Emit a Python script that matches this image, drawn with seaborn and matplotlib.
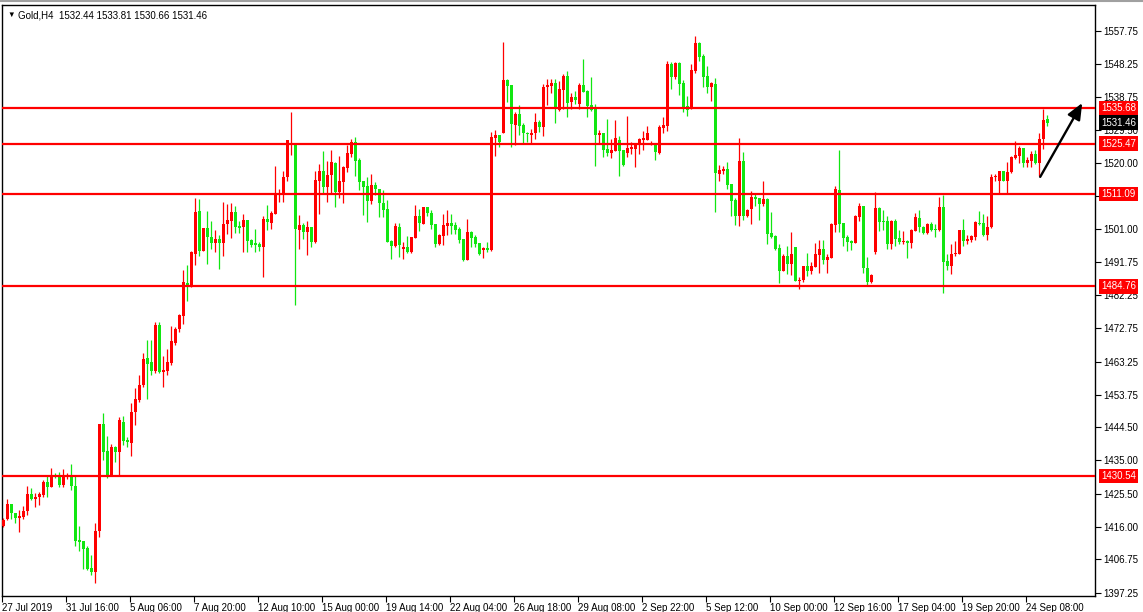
import numpy as np
import pandas as pd
import seaborn as sns
import matplotlib
matplotlib.use("Agg")
import matplotlib.pyplot as plt
import matplotlib.transforms as mtransforms

# Gold H4 candles (oldest first)
opens = [
    1416.3, 1418.2, 1422.5, 1419.9, 1418.4, 1418.9, 1420.4, 1425.4, 1424.1, 1424.4,
    1425.1, 1428.8, 1427.3, 1430.5, 1430.5, 1427.9, 1430.2, 1430.7, 1427.7, 1412.3,
    1412.1, 1410.0, 1404.3, 1403.1, 1414.9, 1445.4, 1437.7, 1430.5, 1438.9, 1437.5,
    1446.0, 1440.8, 1440.1, 1448.7, 1452.3, 1456.4, 1464.2, 1463.1, 1460.6, 1473.7,
    1460.3, 1460.6, 1462.9, 1468.6, 1472.4, 1476.3, 1485.6, 1484.6, 1494.0, 1506.2,
    1494.9, 1501.4, 1498.7, 1497.0, 1498.2, 1497.0, 1502.4, 1503.5, 1506.0, 1502.0,
    1501.6, 1503.7, 1498.0, 1497.2, 1496.9, 1496.1, 1504.0, 1502.9, 1505.4, 1511.0,
    1511.3, 1516.1, 1525.0, 1525.4, 1500.8, 1502.3, 1500.3, 1501.7, 1497.4, 1514.9,
    1517.8, 1513.2, 1516.4, 1519.9, 1511.7, 1514.6, 1518.6, 1522.5, 1526.0, 1520.8,
    1514.8, 1513.4, 1509.1, 1513.7, 1512.5, 1508.5, 1506.8, 1497.6, 1496.3, 1501.7,
    1495.4, 1496.0, 1494.5, 1498.6, 1504.8, 1502.5, 1507.4, 1505.8, 1502.5, 1496.8,
    1499.2, 1502.0, 1502.8, 1502.3, 1501.1, 1498.3, 1492.3, 1500.3, 1498.8, 1497.1,
    1495.1, 1495.7, 1495.1, 1527.2, 1528.0, 1528.6, 1543.7, 1542.3, 1530.8, 1534.0,
    1530.8, 1528.6, 1528.0, 1528.4, 1531.7, 1530.3, 1541.7, 1542.1, 1542.8, 1535.1,
    1540.8, 1544.8, 1537.4, 1538.8, 1536.8, 1542.3, 1540.5, 1536.5, 1535.4, 1528.0,
    1528.5, 1524.0, 1522.8, 1523.4, 1526.5, 1523.7, 1522.8, 1524.0, 1524.0, 1525.4,
    1526.5, 1526.5, 1525.3, 1525.7, 1522.8, 1530.0, 1530.5, 1548.3, 1544.5, 1548.5,
    1542.8, 1536.3, 1535.4, 1546.3, 1554.3, 1550.5, 1544.8, 1541.7, 1542.5, 1516.8,
    1517.7, 1518.3, 1514.0, 1509.4, 1504.8, 1520.5, 1504.8, 1506.8, 1510.3, 1510.0,
    1508.3, 1509.7, 1500.0, 1499.1, 1495.7, 1489.1, 1493.4, 1491.1, 1496.0, 1486.3,
    1486.5, 1490.5, 1489.1, 1490.3, 1493.7, 1495.4, 1492.3, 1492.8, 1502.3, 1512.3,
    1502.8, 1498.8, 1497.7, 1497.1, 1504.5, 1507.7, 1490.0, 1486.0, 1494.5, 1507.1,
    1503.4, 1503.4, 1496.8, 1503.4, 1498.5, 1497.4, 1497.7, 1497.1, 1500.5, 1504.3,
    1501.7, 1500.0, 1502.5, 1501.1, 1500.8, 1507.4, 1492.0, 1490.5, 1494.0, 1494.0,
    1500.8, 1497.7, 1498.0, 1498.8, 1502.8, 1502.8, 1499.4, 1501.7, 1515.9, 1514.8,
    1517.7, 1514.8, 1517.4, 1521.4, 1522.0, 1524.3, 1520.1, 1520.5, 1522.5, 1520.0,
    1526.8, 1532.44,
]
highs = [
    1418.4, 1423.9, 1422.5, 1420.1, 1420.8, 1422.0, 1427.7, 1427.1, 1425.8, 1426.0,
    1429.4, 1430.4, 1432.8, 1431.5, 1431.7, 1432.4, 1431.3, 1434.0, 1430.5, 1416.3,
    1412.1, 1410.5, 1408.0, 1417.0, 1445.4, 1448.4, 1442.0, 1439.7, 1439.2, 1447.3,
    1447.7, 1441.6, 1451.5, 1455.6, 1459.4, 1465.8, 1469.4, 1469.4, 1474.6, 1474.4,
    1464.8, 1466.7, 1473.4, 1473.2, 1476.8, 1489.4, 1490.7, 1494.9, 1509.9, 1509.6,
    1501.4, 1506.2, 1503.3, 1500.8, 1499.3, 1508.8, 1508.3, 1508.4, 1507.7, 1503.3,
    1505.4, 1503.7, 1498.2, 1501.0, 1497.4, 1504.8, 1508.0, 1506.3, 1519.1, 1512.5,
    1517.7, 1526.5, 1534.5, 1525.4, 1505.1, 1502.9, 1503.4, 1501.7, 1517.8, 1519.7,
    1523.4, 1520.6, 1523.7, 1520.3, 1522.0, 1519.1, 1525.1, 1526.8, 1527.4, 1521.4,
    1514.8, 1516.0, 1516.8, 1514.4, 1512.5, 1512.3, 1509.4, 1498.0, 1502.8, 1502.8,
    1497.4, 1499.1, 1498.8, 1508.0, 1506.8, 1507.4, 1507.4, 1506.5, 1502.5, 1499.6,
    1505.3, 1506.6, 1505.4, 1503.0, 1501.7, 1498.3, 1504.0, 1500.5, 1499.4, 1497.1,
    1496.0, 1497.4, 1528.8, 1529.4, 1528.0, 1554.5, 1544.0, 1542.3, 1534.4, 1536.5,
    1531.3, 1528.8, 1529.7, 1534.3, 1532.3, 1542.5, 1544.0, 1544.0, 1544.0, 1543.4,
    1545.4, 1546.3, 1540.0, 1540.5, 1542.8, 1549.7, 1540.8, 1544.5, 1536.8, 1529.4,
    1528.5, 1532.5, 1526.8, 1532.3, 1527.7, 1523.7, 1533.4, 1526.0, 1525.7, 1527.1,
    1529.1, 1530.5, 1526.3, 1525.7, 1530.8, 1533.1, 1549.1, 1548.8, 1548.9, 1548.8,
    1543.7, 1539.1, 1548.3, 1556.3, 1554.5, 1551.1, 1547.7, 1543.1, 1544.3, 1519.3,
    1519.1, 1520.3, 1514.0, 1510.0, 1527.1, 1523.1, 1506.8, 1512.0, 1511.1, 1510.0,
    1514.8, 1510.0, 1506.0, 1499.4, 1496.8, 1494.0, 1496.3, 1500.3, 1496.0, 1487.4,
    1490.5, 1494.3, 1491.7, 1497.1, 1498.0, 1498.0, 1494.0, 1502.8, 1513.4, 1523.7,
    1502.8, 1499.4, 1498.0, 1505.1, 1508.5, 1507.7, 1493.1, 1488.3, 1511.7, 1507.4,
    1506.5, 1504.8, 1503.7, 1504.0, 1500.8, 1500.5, 1498.0, 1501.1, 1505.7, 1506.5,
    1502.0, 1502.8, 1503.1, 1502.5, 1510.3, 1510.8, 1494.0, 1496.8, 1497.7, 1500.8,
    1504.0, 1499.4, 1499.4, 1503.4, 1506.3, 1505.4, 1504.8, 1516.8, 1516.8, 1517.7,
    1517.7, 1520.3, 1522.0, 1526.3, 1524.8, 1524.3, 1521.7, 1523.4, 1523.7, 1528.5,
    1535.4, 1533.81,
]
lows = [
    1415.9, 1418.0, 1418.2, 1417.2, 1414.4, 1418.2, 1419.3, 1423.7, 1421.8, 1422.3,
    1424.4, 1424.6, 1427.3, 1429.9, 1427.3, 1427.5, 1429.6, 1426.4, 1410.4, 1409.2,
    1404.1, 1403.7, 1402.3, 1400.1, 1413.2, 1435.1, 1429.9, 1430.5, 1434.4, 1430.5,
    1439.4, 1438.9, 1436.3, 1445.1, 1451.7, 1455.9, 1452.6, 1459.3, 1460.1, 1459.9,
    1456.1, 1459.5, 1462.3, 1467.9, 1471.7, 1474.0, 1480.6, 1484.6, 1490.9, 1493.4,
    1494.9, 1491.1, 1495.5, 1494.4, 1489.8, 1493.4, 1499.7, 1498.5, 1499.9, 1499.9,
    1494.4, 1494.5, 1496.1, 1494.4, 1494.7, 1487.3, 1500.8, 1501.2, 1505.4, 1508.9,
    1508.9, 1514.9, 1522.3, 1479.4, 1495.4, 1498.3, 1493.7, 1496.0, 1497.1, 1505.4,
    1511.1, 1508.8, 1511.1, 1507.4, 1510.0, 1508.5, 1517.5, 1521.8, 1516.3, 1512.3,
    1505.1, 1503.1, 1508.3, 1510.8, 1504.5, 1504.6, 1497.3, 1492.5, 1496.0, 1493.1,
    1492.5, 1494.3, 1494.3, 1498.5, 1500.5, 1502.5, 1504.8, 1501.1, 1496.0, 1496.6,
    1496.5, 1499.4, 1499.7, 1499.7, 1497.0, 1492.0, 1492.3, 1496.0, 1496.0, 1493.7,
    1492.8, 1494.6, 1494.8, 1522.0, 1524.5, 1528.6, 1537.4, 1524.6, 1525.1, 1528.0,
    1525.6, 1525.9, 1525.4, 1526.8, 1528.8, 1527.7, 1536.5, 1540.0, 1531.4, 1534.8,
    1535.4, 1533.1, 1535.4, 1536.8, 1535.4, 1540.3, 1533.1, 1534.8, 1519.1, 1525.4,
    1521.7, 1522.0, 1521.4, 1523.4, 1516.3, 1519.1, 1521.7, 1522.5, 1518.8, 1522.5,
    1523.7, 1526.5, 1525.0, 1520.8, 1522.5, 1528.5, 1529.1, 1541.1, 1544.0, 1539.4,
    1534.6, 1533.4, 1535.4, 1545.7, 1549.1, 1541.7, 1540.0, 1537.7, 1506.0, 1514.8,
    1516.8, 1512.5, 1504.8, 1502.3, 1502.0, 1503.7, 1504.6, 1502.5, 1507.7, 1503.7,
    1507.7, 1496.8, 1498.5, 1495.1, 1485.7, 1489.1, 1488.3, 1488.0, 1486.3, 1484.0,
    1486.0, 1487.7, 1488.3, 1490.3, 1488.5, 1491.1, 1488.5, 1492.8, 1500.3, 1500.3,
    1496.3, 1494.8, 1495.1, 1497.1, 1503.4, 1488.5, 1484.8, 1485.7, 1494.0, 1500.5,
    1500.8, 1495.4, 1495.4, 1496.3, 1496.8, 1496.8, 1492.8, 1495.7, 1500.5, 1500.3,
    1499.7, 1499.7, 1500.5, 1498.8, 1500.5, 1482.8, 1489.4, 1488.3, 1493.4, 1494.0,
    1496.3, 1496.8, 1497.4, 1498.0, 1502.3, 1499.1, 1498.0, 1501.4, 1514.8, 1511.1,
    1514.8, 1511.1, 1517.1, 1521.1, 1520.1, 1518.8, 1518.8, 1518.8, 1519.7, 1516.3,
    1524.0, 1530.66,
]
closes = [
    1418.0, 1422.5, 1419.9, 1418.4, 1419.1, 1420.5, 1425.4, 1424.1, 1424.6, 1425.4,
    1428.8, 1427.3, 1430.5, 1430.2, 1427.9, 1430.5, 1430.7, 1427.7, 1412.1, 1411.7,
    1409.8, 1404.1, 1403.1, 1414.9, 1445.4, 1437.5, 1430.5, 1438.9, 1437.5, 1446.4,
    1440.5, 1440.3, 1448.8, 1452.6, 1456.4, 1464.0, 1462.6, 1460.6, 1473.7, 1460.3,
    1460.8, 1463.1, 1469.1, 1472.5, 1476.5, 1486.0, 1484.8, 1494.4, 1506.0, 1494.9,
    1501.4, 1498.7, 1497.0, 1498.2, 1497.0, 1502.5, 1503.7, 1506.0, 1501.8, 1501.5,
    1503.7, 1497.8, 1496.6, 1496.6, 1496.1, 1504.0, 1503.2, 1505.8, 1511.3, 1511.5,
    1516.1, 1526.5, 1525.4, 1501.1, 1502.3, 1500.3, 1501.7, 1497.4, 1515.1, 1517.8,
    1513.2, 1516.5, 1520.3, 1511.7, 1514.8, 1518.8, 1522.8, 1526.0, 1520.5, 1514.6,
    1513.2, 1509.1, 1513.7, 1512.5, 1508.4, 1506.5, 1497.4, 1496.3, 1502.0, 1496.5,
    1496.0, 1494.5, 1498.8, 1504.8, 1502.8, 1507.4, 1505.6, 1502.3, 1496.8, 1499.4,
    1502.3, 1502.8, 1502.0, 1500.8, 1498.0, 1492.3, 1500.3, 1498.5, 1496.9, 1494.0,
    1495.7, 1495.1, 1527.4, 1528.0, 1526.0, 1543.7, 1542.1, 1531.1, 1534.0, 1530.5,
    1528.5, 1528.2, 1528.5, 1531.7, 1530.3, 1541.7, 1542.3, 1542.8, 1535.7, 1541.1,
    1544.8, 1537.1, 1538.8, 1538.0, 1542.3, 1540.3, 1536.3, 1535.1, 1528.0, 1528.5,
    1523.7, 1522.8, 1523.7, 1527.1, 1523.5, 1519.4, 1524.3, 1524.5, 1525.5, 1526.8,
    1527.1, 1528.5, 1525.7, 1523.1, 1530.3, 1530.8, 1548.3, 1544.5, 1548.5, 1542.5,
    1536.0, 1535.1, 1546.5, 1554.3, 1550.3, 1544.5, 1541.7, 1542.8, 1517.1, 1518.0,
    1518.3, 1513.7, 1509.1, 1504.8, 1520.5, 1504.8, 1506.5, 1510.3, 1509.7, 1508.3,
    1509.7, 1499.7, 1498.8, 1495.4, 1489.1, 1493.4, 1491.1, 1494.0, 1486.3, 1486.5,
    1490.5, 1489.1, 1490.5, 1494.0, 1495.4, 1492.3, 1493.1, 1502.5, 1512.5, 1502.5,
    1498.5, 1497.4, 1497.1, 1504.8, 1507.7, 1490.0, 1486.0, 1488.0, 1507.1, 1503.1,
    1503.1, 1496.8, 1503.4, 1498.3, 1497.4, 1497.7, 1497.1, 1500.8, 1504.5, 1501.7,
    1500.0, 1502.5, 1500.8, 1500.8, 1507.4, 1491.7, 1490.5, 1494.0, 1494.3, 1500.8,
    1497.6, 1498.3, 1499.1, 1503.1, 1502.5, 1499.4, 1501.7, 1516.0, 1516.3, 1517.7,
    1514.8, 1517.4, 1521.7, 1522.3, 1524.3, 1520.0, 1520.8, 1522.5, 1520.0, 1526.8,
    1532.3, 1531.46,
]

time_labels = [
    "27 Jul 2019", "31 Jul 16:00", "5 Aug 06:00", "7 Aug 20:00", "12 Aug 10:00",
    "15 Aug 00:00", "19 Aug 14:00", "22 Aug 04:00", "26 Aug 18:00", "29 Aug 08:00",
    "2 Sep 22:00", "5 Sep 12:00", "10 Sep 00:00", "12 Sep 16:00", "17 Sep 04:00",
    "19 Sep 20:00", "24 Sep 08:00",
]
bars_per_label = 16

price_ticks = [1557.75, 1548.25, 1538.75, 1529.50, 1520.00, 1510.50, 1501.00,
               1491.75, 1482.25, 1472.75, 1463.25, 1453.75, 1444.50, 1435.00,
               1425.50, 1416.00, 1406.75, 1397.25]
levels = [1535.68, 1525.47, 1511.09, 1484.76, 1430.54]
last_price = 1531.46
header = "Gold,H4  1532.44 1533.81 1530.66 1531.46"

# hand-drawn arrow on the chart (bar index, price)
arrow_from = (259.2, 1516.0)
arrow_to = (269.7, 1537.1)

df = pd.DataFrame({"open": opens, "high": highs, "low": lows, "close": closes})
df["high"] = df[["high", "open", "close"]].max(axis=1)
df["low"] = df[["low", "open", "close"]].min(axis=1)
df["x"] = np.arange(len(df))
up_col, dn_col = "#ff0000", "#11e611"
df["color"] = np.where(df["close"] >= df["open"], up_col, dn_col)

sns.set_theme(style="white")
plt.rcParams["font.family"] = ["Liberation Sans", "DejaVu Sans"]
fs = 7

W, H = 1143, 612
fig = plt.figure(figsize=(W / 100, H / 100), dpi=100)
ax = fig.add_axes([2 / W, 16 / H, 1093 / W, 591 / H])

# candles
ax.vlines(df["x"], df["low"], df["high"], colors=df["color"], lw=0.9, zorder=3)
body_lo = df[["open", "close"]].min(axis=1)
body_h = (df["close"] - df["open"]).abs().clip(lower=0.3)
ax.bar(df["x"], body_h, bottom=body_lo, width=0.72, color=df["color"],
       linewidth=0, zorder=4)

for lv in levels:
    ax.axhline(lv, color="red", lw=1.6, zorder=5)

ax.annotate("", xy=arrow_to, xytext=arrow_from,
            arrowprops=dict(arrowstyle="-|>,head_length=0.7,head_width=0.3",
                            color="black", lw=1.7, shrinkA=0, shrinkB=0,
                            mutation_scale=14), zorder=6)

ax.set_xlim(-0.33, 272.9)
ax.set_ylim(1396.25, 1565.11)

# price scale on the right; a tick label hidden under a level box is left blank
def covered(v):
    return any(abs(v - lv) < 1.5 for lv in levels)

ax.yaxis.tick_right()
ax.set_yticks(price_ticks)
ax.set_yticklabels(["" if covered(v) else f"{v:.2f}" for v in price_ticks])
ax.tick_params(axis="y", direction="out", length=4, width=0.8, pad=2,
               labelsize=fs, colors="black", right=True, left=False)

# time scale
xt = [k * bars_per_label - 0.33 for k in range(len(time_labels))]
ax.set_xticks(xt)
ax.set_xticklabels(time_labels)
ax.tick_params(axis="x", direction="out", length=4, width=0.8, pad=1,
               labelsize=fs, colors="black", bottom=True)
plt.setp(ax.get_xticklabels(), ha="left")
ax.grid(False)

for s in ax.spines.values():
    s.set_color("black")
    s.set_linewidth(1.0)

trans = mtransforms.blended_transform_factory(ax.transAxes, ax.transData)
tx = 1 + 6 / 1093
for lv in levels:
    ax.text(tx, lv, f"{lv:.2f}", transform=trans, ha="left", va="center",
            color="white", fontsize=fs, clip_on=False, zorder=10,
            bbox=dict(boxstyle="square,pad=0.25", fc="red", ec="none"))
ax.text(tx, last_price, f"{last_price:.2f}", transform=trans, ha="left",
        va="center", color="white", fontsize=fs, clip_on=False, zorder=10,
        bbox=dict(boxstyle="square,pad=0.25", fc="black", ec="none"))

fig.text(7 / W, 1 - 15 / H, "\u25bc", fontsize=5.5, va="center", color="black")
fig.text(18 / W, 1 - 15 / H, header, fontsize=fs, va="center", color="black")
fig.add_artist(plt.Line2D([0, 1], [1 - 1 / H, 1 - 1 / H], color="#a0a0a0",
                          lw=1.5, transform=fig.transFigure))

fig.savefig("out.png", dpi=100)
